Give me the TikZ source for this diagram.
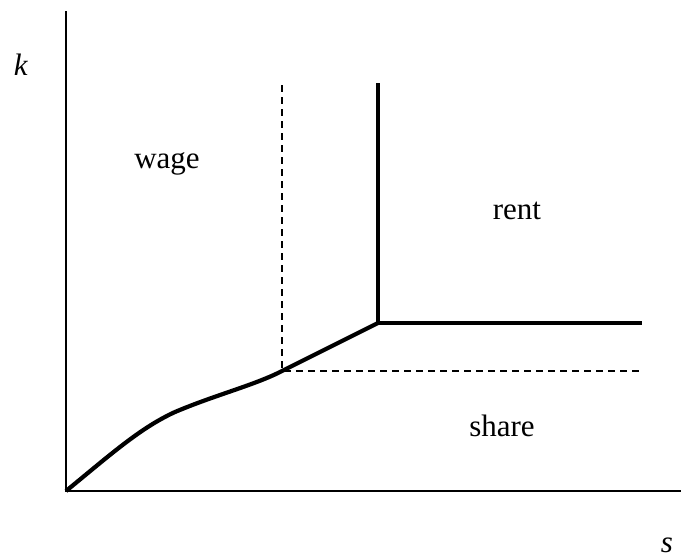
\documentclass[tikz,border=0pt]{standalone}
\usepackage{fontspec}
\setmainfont{Liberation Serif}
\begin{document}
\begin{tikzpicture}[x=1pt,y=-1pt,
  axis/.style={line width=1.8pt},
  thickline/.style={line width=4.2pt},
  guide/.style={line width=1.5pt,dash pattern=on 7pt off 5pt},
  lbl/.style={font=\fontsize{31}{36}\selectfont,anchor=base,inner sep=0pt}]
\useasboundingbox (0,0) rectangle (681,558);
\coordinate (O) at (66,491);
\coordinate (Ytop) at (66,11);
\coordinate (Xend) at (681,491);
\coordinate (A) at (282,371);
\coordinate (B) at (378,323);
\coordinate (Btop) at (378,83);
\coordinate (Bright) at (642,323);
\coordinate (Atop) at (282,85);
\coordinate (Aright) at (639,371);
% axes
\draw[axis] (Ytop) -- (O) -- (Xend);
% guides
\draw[guide] (Atop) -- (A) -- (Aright);
% thick curve
\draw[thickline,line join=miter] (O) .. controls (110,455) and (140,428) .. (175,412)
  .. controls (215,395) and (255,385) .. (A) -- (B);
\draw[thickline] (Btop) -- (B) -- (Bright);
% labels
\node[lbl] (k) at (21,75) {\textit{k}};
\node[lbl,text depth=0pt] (s) at (667,552) {\textit{s}};
\node[lbl] (wage) at (167,168) {wage};
\node[lbl] (rent) at (517,219) {rent};
\node[lbl] (share) at (502,436) {share};
\end{tikzpicture}
\end{document}
